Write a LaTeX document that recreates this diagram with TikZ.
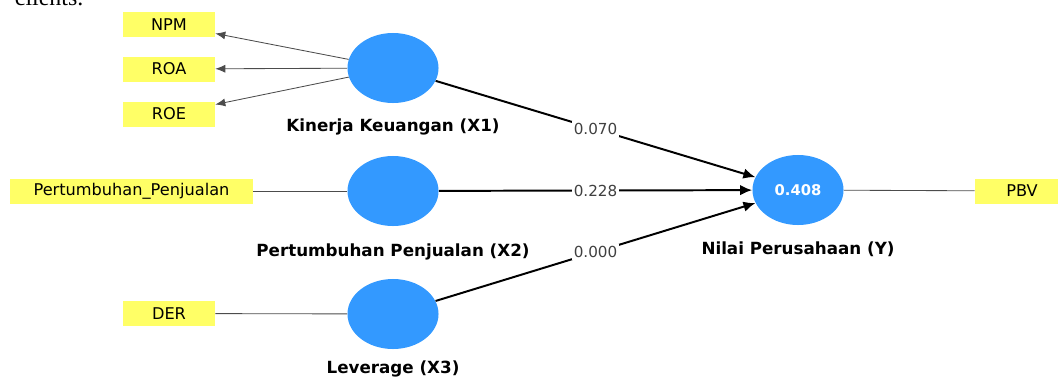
\documentclass[tikz,border=0pt]{standalone}
\usepackage{fontspec}
\setmainfont{DejaVu Sans}
\newfontfamily\bodyserif{Liberation Serif}
\usepackage{tikz}
\usetikzlibrary{arrows,arrows.meta,shapes,positioning}

\definecolor{plsblue}{RGB}{51,153,255}
\definecolor{plsyellow}{RGB}{255,255,102}

\begin{document}
\begin{tikzpicture}[x=0.025cm, y=-0.025cm,
font=\fontsize{11.5}{13}\selectfont, latent/.style={
    ellipse, fill=plsblue, inner sep=0pt,
    minimum width=2.275cm, minimum height=1.75cm,
    text=white, font=\fontsize{10.5}{12}\selectfont\bfseries},
indicator/.style={fill=plsyellow, inner sep=0pt, minimum width=2.3cm, minimum height=0.625cm},
lvname/.style={font=\fontsize{11.9}{13}\selectfont\bfseries},
coef/.style={fill=white, inner sep=1.5pt, text=black!75, font=\fontsize{10.8}{12}\selectfont},
outer/.style={draw=black!70, line width=0.6pt},
outarrow/.style={-{Latex[length=2.5mm,width=2mm]}},
path/.style={-{Latex[length=3mm,width=2.6mm]}, line width=1.4pt},
]

\useasboundingbox (0,0) rectangle (1058,377);
\node (cut) [anchor=base west, font=\bodyserif\fontsize{17}{20}\selectfont] at (10,5) {clients.};

% latent variables
\node[latent] (X1) at (393,68) {};
\node[latent] (X2) at (393,191) {};
\node[latent] (X3) at (393,314) {};
\node[latent] (Y) at (798,190) {0.408};

\node[lvname] (X1name) [below=0.6cm of X1.south, anchor=center] {Kinerja Keuangan (X1)};
\node[lvname] (X2name) [below=0.65cm of X2.south, anchor=center] {Pertumbuhan Penjualan (X2)};
\node[lvname] (X3name) [below=0.5cm of X3.south, anchor=center] {Leverage (X3)};
\node[lvname] (Yname) [below=0.6cm of Y.south, anchor=center] {Nilai Perusahaan (Y)};

% indicators
\node[indicator] (NPM) at (169,24.5) {NPM};
\node[indicator] (ROA) at (169,69) {ROA};
\node[indicator] (ROE) at (169,114) {ROE};
\node[indicator, minimum width=6.075cm] (PP) at (131.5,191) {Pertumbuhan\_Penjualan};
\node[indicator] (DER) at (169,313.5) {DER};
\node[indicator, minimum width=2.35cm] (PBV) at (1022,191) {PBV};

\draw[outer, outarrow] (X1) to (NPM);
\draw[outer, outarrow] (X1) to (ROA);
\draw[outer, outarrow] (X1) to (ROE);
\draw[outer] (PP) to (X2);
\draw[outer] (DER) to (X3);
\draw[outer] (Y) to (PBV);

\draw[path] (X1) to node[coef] {0.070} (Y);
\draw[path] (X2) to node[coef] {0.228} (Y);
\draw[path] (X3) to node[coef] {0.000} (Y);

\end{tikzpicture}
\end{document}
